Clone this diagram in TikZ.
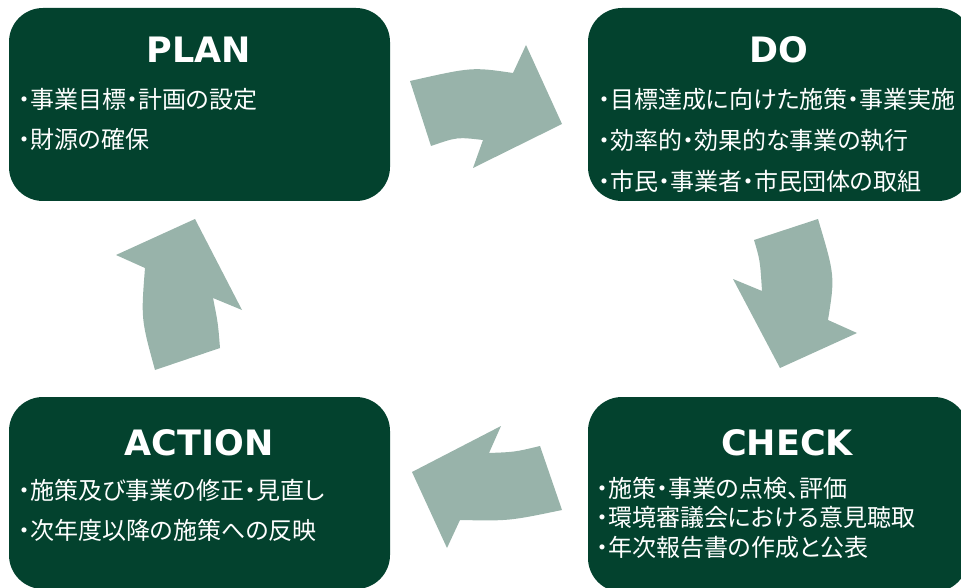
\documentclass[tikz,border=0pt]{standalone}
\usepackage{fontspec}
\newfontfamily\jpfont[RawFeature=+palt]{Noto Sans CJK JP}
\newfontfamily\ttlfont{DejaVu Sans Bold}
\definecolor{boxgreen}{RGB}{3,66,46}
\definecolor{arrowgreen}{RGB}{152,179,170}
\tikzset{
  phasebox/.style={fill=boxgreen, draw=none, rounded corners=34pt},
  phasetitle/.style={text=white, inner sep=0pt, anchor=base, font=\ttlfont\fontsize{35}{35}\selectfont},
  itemline/.style={text=white, inner sep=0pt, anchor=base west, font=\jpfont\fontsize{24}{24}\selectfont},
  cyclearrow/.style={fill=arrowgreen, draw=none}
}
\begin{document}
\begin{tikzpicture}[x=1pt,y=-1pt]
\useasboundingbox (0,0) rectangle (961,588);
\begin{scope}
\clip (0,0) rectangle (961,588);
% boxes
\path[phasebox] (9,8) rectangle (390,201);
\path[phasebox] (588,8) rectangle (972,201);
\path[phasebox] (588,397) rectangle (968,592);
\path[phasebox] (9,397) rectangle (390,589);
\end{scope}
% titles
\node[phasetitle] (plan) at (199,63) {PLAN};
\node[phasetitle] (do) at (779,63) {DO};
\node[phasetitle] (check) at (787,455) {CHECK};
\node[phasetitle] (action) at (199,455) {ACTION};
% items
\node[itemline] (p1) at (18,109) {・事業目標・計画の設定};
\node[itemline] (p2) at (18,149) {・財源の確保};
\node[itemline] (d1) at (598,109) {・目標達成に向けた施策・事業実施};
\node[itemline] (d2) at (598,150) {・効率的・効果的な事業の執行};
\node[itemline] (d3) at (598,191) {・市民・事業者・市民団体の取組};
\node[itemline] (c1) at (596,497) {・施策・事業の点検、評価};
\node[itemline] (c2) at (596,526) {・環境審議会における意見聴取};
\node[itemline] (c3) at (596,556) {・年次報告書の作成と公表};
\node[itemline] (a1) at (18,499) {・施策及び事業の修正・見直し};
\node[itemline] (a2) at (18,539) {・次年度以降の施策への反映};
% arrows
\fill[cyclearrow] (410,81) .. controls (472,67) .. (513,73) -- (526,45) -- (562,124) -- (473,168) -- (483,140) .. controls (457,137) .. (431,146) -- cycle;
\fill[cyclearrow] (818,219) .. controls (835,276) .. (828,320) -- (857,333) -- (780,368) -- (733,279) -- (762,291) .. controls (760,260) .. (754,240) -- cycle;
\fill[cyclearrow] (562,510) .. controls (509,521) .. (460,520) -- (447,548) -- (412,472) -- (501,426) -- (489,453) .. controls (515,452) .. (540,446) -- cycle;
\fill[cyclearrow] (155,370) .. controls (141,319) .. (145,268) -- (116,255) -- (195,219) -- (242,310) -- (213,298) .. controls (218,323) .. (220,348) -- cycle;
\end{tikzpicture}
\end{document}
